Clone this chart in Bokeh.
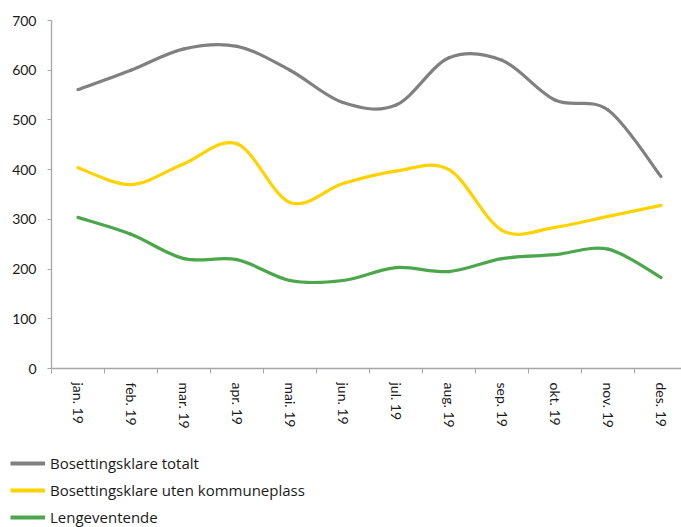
from bokeh.plotting import figure
from bokeh.models import Range1d, FixedTicker, Legend, LegendItem, ColumnDataSource
from bokeh.layouts import column
from bokeh.embed import file_html
from bokeh.resources import INLINE
import math

months = ["jan. 19", "feb. 19", "mar. 19", "apr. 19", "mai. 19", "jun. 19",
          "jul. 19", "aug. 19", "sep. 19", "okt. 19", "nov. 19", "des. 19"]
totalt = [561, 600, 643, 648, 600, 535, 530, 625, 620, 540, 520, 386]
uten_kommuneplass = [404, 370, 412, 452, 334, 372, 397, 400, 278, 284, 306, 328]
lengeventende = [304, 270, 221, 219, 177, 177, 203, 195, 221, 229, 240, 183]
y_ticks = [0, 100, 200, 300, 400, 500, 600, 700]

names = ["Bosettingsklare totalt", "Bosettingsklare uten kommuneplass", "Lengeventende"]
colors = ["#808080", "#FFD200", "#4CA64C"]
series = [totalt, uten_kommuneplass, lengeventende]

FONT = "Lato"

p = figure(width=681, height=445, output_backend="svg", toolbar_location=None,
           x_range=Range1d(0, 630 / 53), y_range=Range1d(0, 700),
           min_border_left=51, min_border_right=0, min_border_top=20, min_border_bottom=77)
p.outline_line_color = None
p.grid.grid_line_color = None
p.frame_align = False

centers = [i + 0.5 for i in range(len(months))]

def smooth_source(vals):
    n = len(vals)
    xs = centers
    d = dict(x0=[], y0=[], x1=[], y1=[], cx0=[], cy0=[], cx1=[], cy1=[])
    for i in range(n - 1):
        ip = max(i - 1, 0)
        inn = min(i + 2, n - 1)
        d["x0"].append(xs[i]); d["y0"].append(vals[i])
        d["x1"].append(xs[i + 1]); d["y1"].append(vals[i + 1])
        d["cx0"].append(xs[i] + (xs[i + 1] - xs[ip]) / 6)
        d["cy0"].append(vals[i] + (vals[i + 1] - vals[ip]) / 6)
        d["cx1"].append(xs[i + 1] - (xs[inn] - xs[i]) / 6)
        d["cy1"].append(vals[i + 1] - (vals[inn] - vals[i]) / 6)
    return ColumnDataSource(d)

for name, col, vals in zip(names, colors, series):
    p.bezier(x0="x0", y0="y0", x1="x1", y1="y1", cx0="cx0", cy0="cy0",
             cx1="cx1", cy1="cy1", source=smooth_source(vals),
             line_color=col, line_width=3.2, line_cap="round")

# axes
xa = p.xaxis[0]
xa.ticker = FixedTicker(ticks=centers, minor_ticks=list(range(0, 13)))
xa.major_label_overrides = {c: m for c, m in zip(centers, months)}
xa.major_label_orientation = -math.pi / 2
xa.major_tick_out = 0
xa.major_tick_in = 0
xa.minor_tick_out = 5
xa.minor_tick_in = 0
xa.minor_tick_line_color = "#A6A6A6"
xa.axis_line_color = "#A6A6A6"
xa.axis_line_width = 1.3
xa.major_label_standoff = 9
xa.major_label_text_font = FONT
xa.major_label_text_font_size = "14px"
xa.major_label_text_color = "#1a1a1a"

ya = p.yaxis[0]
ya.ticker = FixedTicker(ticks=y_ticks)
ya.minor_tick_line_color = None
ya.major_tick_out = 4
ya.major_tick_in = 0
ya.major_tick_line_color = "#A6A6A6"
ya.axis_line_color = "#A6A6A6"
ya.axis_line_width = 1.3
ya.major_label_standoff = 11
ya.major_label_text_font = FONT
ya.major_label_text_font_size = "14px"
ya.major_label_text_color = "#1a1a1a"

# legend panel below the chart
lf = figure(width=681, height=82, output_backend="svg", toolbar_location=None,
            x_range=Range1d(0, 1), y_range=Range1d(0, 1),
            x_axis_type=None, y_axis_type=None,
            min_border_left=0, min_border_right=0, min_border_top=0, min_border_bottom=0)
lf.outline_line_color = None
lf.grid.grid_line_color = None
lf.frame_align = False
items = []
for name, col, vals in zip(names, colors, series):
    # series values lie far outside this panel's 0..1 ranges, so only the swatch shows
    r = lf.line(x=centers, y=vals, line_color=col, line_width=4)
    items.append(LegendItem(label=name, renderers=[r]))

legend = Legend(items=items, location=(10, 0), orientation="vertical",
                border_line_color=None, background_fill_alpha=0,
                padding=0, margin=0, spacing=7, glyph_width=35, glyph_height=20,
                label_height=20, label_standoff=5,
                label_text_font="Open Sans", label_text_font_size="15px",
                label_text_color="#1a1a1a")
lf.add_layout(legend, "center")

layout = column(p, lf, spacing=0)
open("out.html", "w").write(file_html(layout, INLINE))
